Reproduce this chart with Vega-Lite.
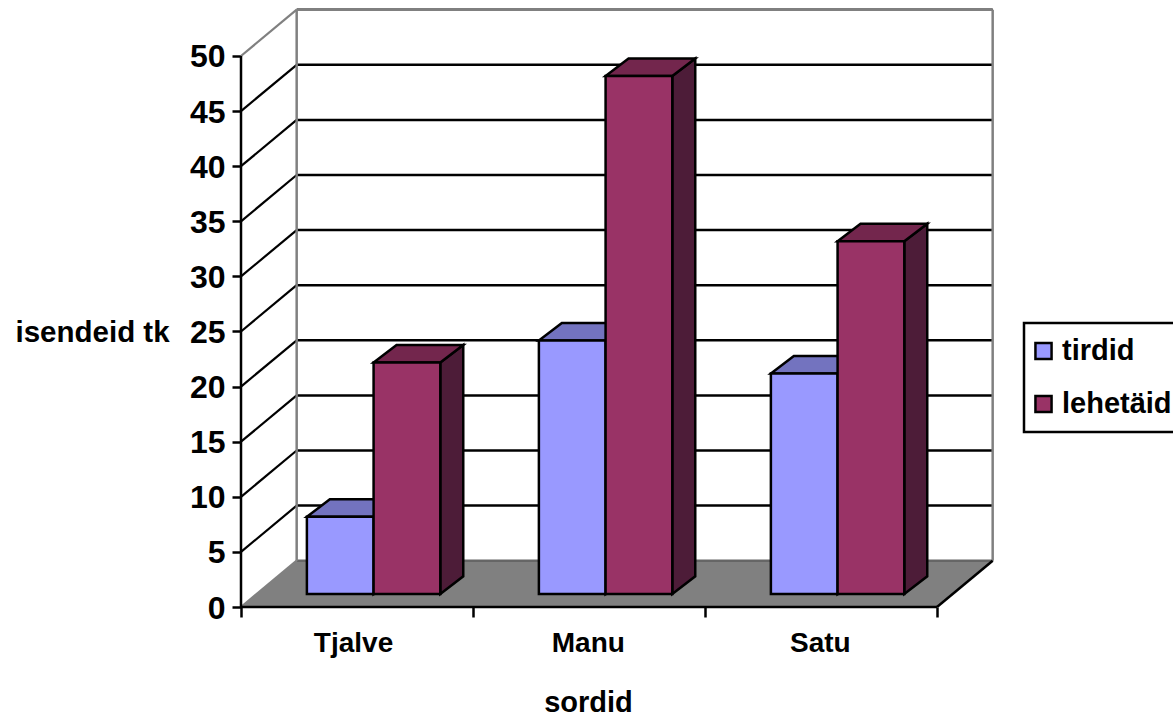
{
  "$schema": "https://vega.github.io/schema/vega-lite/v6.json",
  "width": 752,
  "height": 597,
  "padding": {"left": 241, "top": 10, "right": 180, "bottom": 109},
  "autosize": {"type": "none"},
  "background": "white",
  "config": {"view": {"stroke": null}, "font": "Liberation Sans", "legend": {"strokeWidth": 2.5}},
  "datasets": {
    "bars": [
      {"sordid": "Tjalve", "series": "tirdid", "value": 7},
      {"sordid": "Tjalve", "series": "lehetäid", "value": 21},
      {"sordid": "Manu", "series": "tirdid", "value": 23},
      {"sordid": "Manu", "series": "lehetäid", "value": 47},
      {"sordid": "Satu", "series": "tirdid", "value": 20},
      {"sordid": "Satu", "series": "lehetäid", "value": 32}
    ],
    "levels": [
      {"level": 0}, {"level": 5}, {"level": 10}, {"level": 15}, {"level": 20}, {"level": 25},
      {"level": 30}, {"level": 35}, {"level": 40}, {"level": 45}, {"level": 50}
    ]
  },
  "encoding": {
    "x": {
      "field": "x",
      "type": "quantitative",
      "scale": {"domain": [0, 3.2414], "nice": false, "zero": false},
      "axis": {
        "values": [0, 0.483, 1, 1.495, 2, 2.495, 3],
        "labelExpr": "datum.value == 0.483 ? 'Tjalve' : datum.value == 1.495 ? 'Manu' : datum.value == 2.495 ? 'Satu' : ''",
        "labelFont": "Liberation Sans",
        "labelFontWeight": "bold",
        "labelFontSize": 28,
        "labelColor": "black",
        "labelPadding": 12,
        "labelBound": false,
        "labelFlush": false,
        "labelOverlap": false,
        "domain": false,
        "grid": false,
        "tickColor": "black",
        "tickSize": 10,
        "tickWidth": 2.5,
        "tickOpacity": {"condition": {"test": "datum.value % 1 != 0", "value": 0}, "value": 1},
        "title": "sordid",
        "titleFont": "Liberation Sans",
        "titleFontWeight": "bold",
        "titleFontSize": 29,
        "titleColor": "black",
        "titleX": 347,
        "titleY": 95,
        "titleAlign": "center",
        "titleBaseline": "middle"
      }
    },
    "y": {
      "field": "y",
      "type": "quantitative",
      "scale": {"domain": [0, 54.174], "nice": false, "zero": false},
      "axis": {
        "values": [0, 5, 10, 15, 20, 25, 30, 35, 40, 45, 50],
        "labelFont": "Liberation Sans",
        "labelFontWeight": "bold",
        "labelFontSize": 32,
        "labelColor": "black",
        "labelPadding": 7,
        "labelOffset": 1,
        "labelOverlap": false,
        "labelBound": false,
        "labelFlush": false,
        "domain": false,
        "grid": false,
        "tickColor": "black",
        "tickSize": 9,
        "tickWidth": 2.5,
        "title": "isendeid tk",
        "titleFont": "Liberation Sans",
        "titleFontWeight": "bold",
        "titleFontSize": 29.5,
        "titleColor": "black",
        "titleAngle": 0,
        "titleX": -226,
        "titleY": 322,
        "titleAlign": "left",
        "titleBaseline": "middle"
      }
    }
  },
  "layer": [
    {
      "description": "Floor of the box",
      "data": {"name": "levels"},
      "transform": [
        {"filter": "datum.level == 0"},
        {"calculate": "[0, 1]", "as": "t"},
        {"flatten": ["t"]},
        {"calculate": "datum.t * 0.24", "as": "x"},
        {"calculate": "3 + datum.t * 0.24", "as": "xEnd"},
        {"calculate": "datum.t * 4.2", "as": "y"}
      ],
      "mark": {"type": "area", "orient": "horizontal", "fill": "#808080"},
      "encoding": {"x2": {"field": "xEnd"}}
    },
    {
      "description": "Level lines along the back wall",
      "data": {"name": "levels"},
      "transform": [
        {"calculate": "0.24", "as": "x"},
        {"calculate": "3.24", "as": "xEnd"},
        {"calculate": "datum.level + 4.2", "as": "y"}
      ],
      "mark": {"type": "rule", "strokeWidth": 2.5},
      "encoding": {
        "x2": {"field": "xEnd"},
        "color": {"condition": {"test": "datum.level == 0", "value": "#666666"}, "value": "black"}
      }
    },
    {
      "description": "Top edge of the back wall",
      "data": {"name": "levels"},
      "transform": [
        {"filter": "datum.level == 50"},
        {"calculate": "0.24", "as": "x"},
        {"calculate": "3.24", "as": "xEnd"},
        {"calculate": "datum.level + 4.2", "as": "y"}
      ],
      "mark": {"type": "rule", "strokeWidth": 2.5, "color": "#808080"},
      "encoding": {"x2": {"field": "xEnd"}}
    },
    {
      "description": "Level lines along the left wall",
      "data": {"name": "levels"},
      "transform": [
        {"calculate": "0", "as": "x"},
        {"calculate": "0.24", "as": "xEnd"},
        {"calculate": "datum.level", "as": "y"},
        {"calculate": "datum.level + 4.2", "as": "yEnd"}
      ],
      "mark": {"type": "rule", "strokeWidth": 2.2},
      "encoding": {
        "x2": {"field": "xEnd"},
        "y2": {"field": "yEnd"},
        "color": {"condition": {"test": "datum.level == 0 || datum.level == 50", "value": "#808080"}, "value": "black"}
      }
    },
    {
      "description": "Vertical edges of the back wall",
      "data": {"values": [{"edge": 0.24}, {"edge": 3.24}]},
      "transform": [
        {"calculate": "datum.edge", "as": "x"},
        {"calculate": "4.2", "as": "y"},
        {"calculate": "54.2", "as": "yEnd"}
      ],
      "mark": {"type": "rule", "strokeWidth": 2.5, "color": "#808080"},
      "encoding": {"y2": {"field": "yEnd"}}
    },
    {
      "description": "Right edge of the floor",
      "data": {"values": [{"edge": 3}]},
      "transform": [
        {"calculate": "datum.edge", "as": "x"},
        {"calculate": "datum.edge + 0.24", "as": "xEnd"},
        {"calculate": "0", "as": "y"},
        {"calculate": "4.2", "as": "yEnd"}
      ],
      "mark": {"type": "rule", "strokeWidth": 2.5, "color": "black"},
      "encoding": {"x2": {"field": "xEnd"}, "y2": {"field": "yEnd"}}
    },
    {
      "description": "Front edge of the floor",
      "data": {"values": [{"edge": 0}]},
      "transform": [
        {"calculate": "datum.edge", "as": "x"},
        {"calculate": "3", "as": "xEnd"},
        {"calculate": "0", "as": "y"}
      ],
      "mark": {"type": "rule", "strokeWidth": 2.5, "color": "black"},
      "encoding": {"x2": {"field": "xEnd"}}
    },
    {
      "description": "Value axis line",
      "data": {"values": [{"edge": 0}]},
      "transform": [
        {"calculate": "datum.edge", "as": "x"},
        {"calculate": "0", "as": "y"},
        {"calculate": "50", "as": "yEnd"}
      ],
      "mark": {"type": "rule", "strokeWidth": 2.5, "color": "black"},
      "encoding": {"y2": {"field": "yEnd"}}
    },
    {
      "description": "Right side of each bar",
      "data": {"name": "bars"},
      "transform": [
        {"calculate": "indexof(['Tjalve', 'Manu', 'Satu'], datum.sordid) + 0.284 + (datum.series == 'tirdid' ? 0 : 0.2875)", "as": "left"},
        {"calculate": "[0, 1]", "as": "t"},
        {"flatten": ["t"]},
        {"calculate": "datum.left + 0.2875 + datum.t * 0.099", "as": "x"},
        {"calculate": "1.18 + datum.t * 1.6", "as": "y"},
        {"calculate": "1.18 + datum.value + datum.t * 1.6", "as": "yEnd"},
        {"calculate": "datum.sordid + datum.series", "as": "bar"}
      ],
      "mark": {"type": "area", "stroke": "black", "strokeWidth": 2.5, "strokeJoin": "miter"},
      "encoding": {
        "y2": {"field": "yEnd"},
        "detail": {"field": "bar"},
        "fill": {
          "field": "series",
          "type": "nominal",
          "legend": null,
          "scale": {"domain": ["tirdid", "lehetäid"], "range": ["#4C4C80", "#4D1C38"]}
        }
      }
    },
    {
      "description": "Top of each bar",
      "data": {"name": "bars"},
      "transform": [
        {"calculate": "indexof(['Tjalve', 'Manu', 'Satu'], datum.sordid) + 0.284 + (datum.series == 'tirdid' ? 0 : 0.2875)", "as": "left"},
        {"calculate": "[0, 1]", "as": "t"},
        {"flatten": ["t"]},
        {"calculate": "datum.left + datum.t * 0.099", "as": "x"},
        {"calculate": "datum.left + 0.2875 + datum.t * 0.099", "as": "xEnd"},
        {"calculate": "1.18 + datum.value + datum.t * 1.6", "as": "y"},
        {"calculate": "datum.sordid + datum.series", "as": "bar"}
      ],
      "mark": {"type": "area", "orient": "horizontal", "stroke": "black", "strokeWidth": 2.5, "strokeJoin": "miter"},
      "encoding": {
        "x2": {"field": "xEnd"},
        "detail": {"field": "bar"},
        "fill": {
          "field": "series",
          "type": "nominal",
          "legend": null,
          "scale": {"domain": ["tirdid", "lehetäid"], "range": ["#7373BF", "#73264D"]}
        }
      }
    },
    {
      "description": "Front of each bar",
      "data": {"name": "bars"},
      "transform": [
        {"calculate": "indexof(['Tjalve', 'Manu', 'Satu'], datum.sordid) + 0.284 + (datum.series == 'tirdid' ? 0 : 0.2875)", "as": "x"},
        {"calculate": "datum.x + 0.2875", "as": "xEnd"},
        {"calculate": "1.18", "as": "y"},
        {"calculate": "1.18 + datum.value", "as": "yEnd"}
      ],
      "mark": {"type": "rect", "stroke": "black", "strokeWidth": 2.5},
      "encoding": {
        "x2": {"field": "xEnd"},
        "y2": {"field": "yEnd"},
        "fill": {
          "field": "series",
          "type": "nominal",
          "scale": {"domain": ["tirdid", "lehetäid"], "range": ["#9999FF", "#993366"]},
          "legend": {
            "orient": "none",
            "legendX": 783,
            "legendY": 313,
            "title": null,
            "symbolType": "square",
            "symbolSize": 260,
            "symbolStrokeColor": "black",
            "symbolStrokeWidth": 2.5,
            "symbolOpacity": 1,
            "labelFont": "Liberation Sans",
            "labelFontWeight": "bold",
            "labelFontSize": 29,
            "labelColor": "black",
            "labelOffset": 4,
            "labelLimit": 300,
            "clipHeight": 46,
            "rowPadding": 7,
            "padding": 5,
            "strokeColor": "black",
            "fillColor": "white"
          }
        }
      }
    }
  ],
  "resolve": {"scale": {"fill": "independent"}}
}
